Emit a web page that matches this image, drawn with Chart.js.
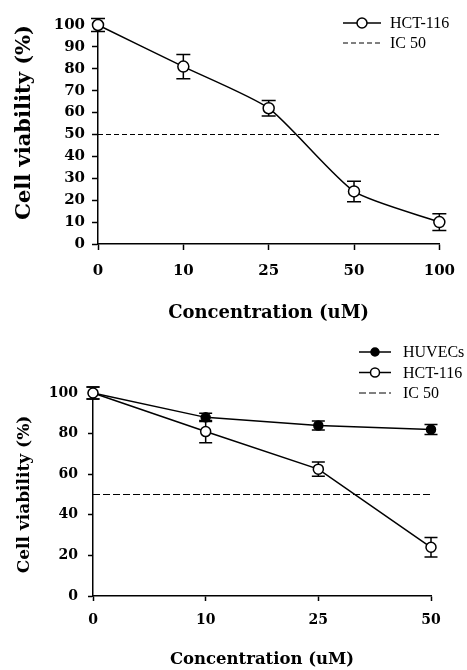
<!DOCTYPE html>
<html>
<head>
<meta charset="utf-8">
<script src="https://cdn.jsdelivr.net/npm/chart.js@4/dist/chart.umd.min.js"></script>
<style>
    body { margin: 0; background: #fff; }
    .box { position: absolute; left: 0; }
</style>
</head>
<body>
<div class="box" style="top:0"><canvas id="topChart" width="467" height="330"></canvas></div>
<div class="box" style="top:330px"><canvas id="bottomChart" width="467" height="340"></canvas></div>
<script>
// Top panel: HCT-116 only
const topDoses = ['0', '10', '25', '50', '100'];
const topHct = [100, 81, 62, 24, 10];
const topHctErr = [3, 5.5, 3.5, 4.7, 3.8];
const topIc50 = [50, 50, 50, 50, 50];

// Bottom panel: HUVECs vs HCT-116
const bottomDoses = ['0', '10', '25', '50'];
const bottomHuvec = [100, 88, 84, 82];
const bottomHuvecErr = [3, 2, 2.2, 2.5];
const bottomHct = [100, 81, 62.5, 24];
const bottomHctErr = [3, 5.5, 3.5, 4.8];
const bottomIc50 = [50, 50, 50, 50];

Chart.defaults.font.family = 'DejaVu Serif';
Chart.defaults.color = '#000';

// vertical error bars with caps, drawn under the markers
const errorBarPlugin = {
    id: 'errorBars',
    beforeDatasetsDraw(chart, args, opts) {
        const ctx = chart.ctx;
        const yScale = chart.scales.y;
        chart.data.datasets.forEach((ds, i) => {
            if (!ds.errorBars) return;
            const meta = chart.getDatasetMeta(i);
            ctx.save();
            ctx.strokeStyle = '#000';
            ctx.lineWidth = 1.5;
            meta.data.forEach((pt, j) => {
                const v = ds.data[j];
                const e = ds.errorBars[j];
                const yTop = yScale.getPixelForValue(v + e);
                const yBot = yScale.getPixelForValue(v - e);
                ctx.beginPath();
                ctx.moveTo(pt.x, yTop);
                ctx.lineTo(pt.x, yBot);
                ctx.moveTo(pt.x - opts.cap, yTop);
                ctx.lineTo(pt.x + opts.cap, yTop);
                ctx.moveTo(pt.x - opts.cap, yBot);
                ctx.lineTo(pt.x + opts.cap, yBot);
                ctx.stroke();
            });
            ctx.restore();
        });
    }
};

// legend stacked in the top right corner
const cornerLegend = {
    id: 'cornerLegend',
    afterDraw(chart, args, opts) {
        const ctx = chart.ctx;
        chart.data.datasets.forEach((ds, i) => {
            const y = opts.y + i * opts.rowGap;
            ctx.save();
            ctx.strokeStyle = '#000';
            ctx.lineWidth = ds.borderWidth;
            ctx.setLineDash(ds.borderDash || []);
            ctx.beginPath();
            ctx.moveTo(opts.x, y);
            ctx.lineTo(opts.x + opts.lineLength, y);
            ctx.stroke();
            ctx.setLineDash([]);
            if (ds.pointRadius > 0) {
                ctx.beginPath();
                ctx.arc(opts.x + opts.lineLength / 2, y, ds.pointRadius - 0.5, 0, Math.PI * 2);
                ctx.fillStyle = ds.pointBackgroundColor;
                ctx.fill();
                ctx.lineWidth = ds.pointBorderWidth;
                ctx.stroke();
            }
            ctx.fillStyle = '#000';
            ctx.font = opts.font;
            ctx.textBaseline = 'middle';
            ctx.fillText(ds.label, opts.textX, y + 1);
            ctx.restore();
        });
    }
};

function axisScales(labels, cfg) {
    return {
        x: {
            type: 'category',
            labels: labels,
            offset: false,
            grid: { drawOnChartArea: false, color: '#000', tickLength: cfg.tickLen, tickWidth: 1.5 },
            border: { color: '#000', width: 1.5 },
            ticks: { font: { size: cfg.tickSize, weight: 'bold' }, padding: cfg.xPad, maxRotation: 0 },
            title: {
                display: true,
                text: 'Concentration (uM)',
                font: { size: cfg.xTitleSize, weight: 'bold' },
                padding: { top: 0, bottom: cfg.xTitlePad }
            },
            afterFit: (scale) => { scale.height = cfg.xHeight; }
        },
        y: {
            min: 0,
            max: 100,
            grid: { drawOnChartArea: false, color: '#000', tickLength: cfg.tickLen, tickWidth: 1.5 },
            border: { color: '#000', width: 1.5 },
            ticks: { stepSize: cfg.step, font: { size: cfg.tickSize, weight: 'bold' }, padding: cfg.yPad },
            title: {
                display: true,
                text: 'Cell viability (%)',
                align: cfg.yAlign,
                font: { size: cfg.yTitleSize, weight: 'bold' },
                padding: { top: cfg.yTitlePad, bottom: 0 }
            },
            afterFit: (scale) => { scale.width = cfg.yWidth; }
        }
    };
}

function openSeries(label, data, err, radius, tension) {
    return {
        label: label,
        data: data,
        errorBars: err,
        borderColor: '#000',
        borderWidth: 1.5,
        pointRadius: radius,
        pointBorderWidth: 1.5,
        pointBackgroundColor: '#fff',
        pointBorderColor: '#000',
        tension: tension,
        order: 0,
        clip: false
    };
}

function dashedSeries(data, dash) {
    return {
        label: 'IC 50',
        data: data,
        borderColor: '#000',
        borderWidth: 1,
        borderDash: dash,
        pointRadius: 0,
        order: 2,
        clip: false
    };
}

function initCharts() {
    new Chart(document.getElementById('topChart').getContext('2d'), {
        type: 'line',
        data: {
            labels: topDoses,
            datasets: [
                openSeries('HCT-116', topHct, topHctErr, 5.5, 0.2),
                dashedSeries(topIc50, [5, 3])
            ]
        },
        options: {
            responsive: false,
            animation: false,
            layout: { padding: { left: 0, right: 21, top: 25, bottom: 0 } },
            scales: axisScales(topDoses, {
                tickLen: 6, tickSize: 15, xPad: 12, yPad: 7, step: 10,
                xTitleSize: 18, xTitlePad: 6, xHeight: 86,
                yTitleSize: 21, yTitlePad: 12, yAlign: 'end', yWidth: 98
            }),
            plugins: {
                legend: { display: false },
                tooltip: { enabled: false },
                errorBars: { cap: 7 },
                cornerLegend: { x: 343, lineLength: 38, textX: 390, y: 23, rowGap: 20, font: '16px "Liberation Serif"' }
            }
        },
        plugins: [errorBarPlugin, cornerLegend]
    });

    // HUVECs sit under the open HCT-116 markers where they overlap
    const huvec = openSeries('HUVECs', bottomHuvec, bottomHuvecErr, 4.5, 0);
    huvec.pointBackgroundColor = '#000';
    huvec.order = 1;

    new Chart(document.getElementById('bottomChart').getContext('2d'), {
        type: 'line',
        data: {
            labels: bottomDoses,
            datasets: [
                huvec,
                openSeries('HCT-116', bottomHct, bottomHctErr, 5, 0),
                dashedSeries(bottomIc50, [7, 3])
            ]
        },
        options: {
            responsive: false,
            animation: false,
            layout: { padding: { left: 0, right: 36, top: 63, bottom: 0 } },
            scales: axisScales(bottomDoses, {
                tickLen: 5, tickSize: 14, xPad: 11, yPad: 10, step: 20,
                xTitleSize: 16.5, xTitlePad: 0, xHeight: 74,
                yTitleSize: 17, yTitlePad: 14, yAlign: 'center', yWidth: 93
            }),
            plugins: {
                legend: { display: false },
                tooltip: { enabled: false },
                errorBars: { cap: 6.5 },
                cornerLegend: { x: 359, lineLength: 32, textX: 403, y: 22, rowGap: 20.5, font: '16px "Liberation Serif"' }
            }
        },
        plugins: [errorBarPlugin, cornerLegend]
    });
}

document.addEventListener('DOMContentLoaded', initCharts);
</script>
</body>
</html>
